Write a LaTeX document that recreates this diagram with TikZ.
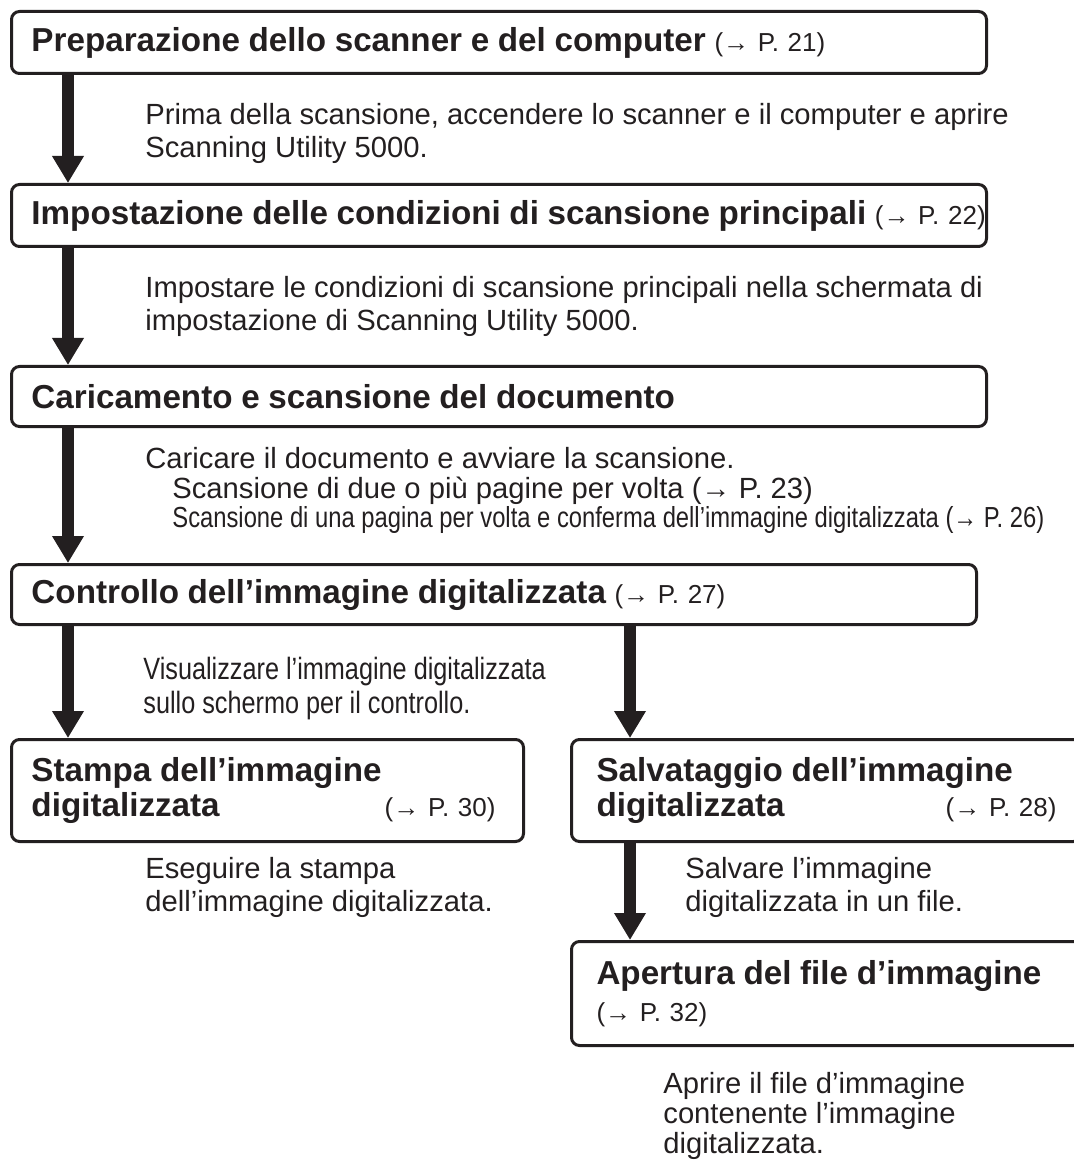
\documentclass[tikz,border=0pt]{standalone}
\usepackage{fontspec}
\setmainfont{Liberation Sans}
\newfontfamily\narrowfont[FakeStretch=0.82]{Liberation Sans}
\usetikzlibrary{arrows.meta,positioning}
\definecolor{InkBlack}{HTML}{231F20}
\newcommand{\steptitle}[1]{{\fontsize{16.6pt}{17.5pt}\selectfont\bfseries #1}}

\begin{document}
\begin{tikzpicture}[
    x=0.5pt, y=-0.5pt, every node/.style={text=InkBlack},
    stepbox/.style={draw=InkBlack, line width=1.5pt, rounded corners=4pt, anchor=north west, inner xsep=10pt, inner ysep=0pt, align=left, font=\fontsize{13pt}{17.5pt}\selectfont},
    flow/.style={-{Triangle[length=13.5pt, width=15pt]}, line width=6pt, draw=InkBlack},
    note/.style={anchor=base west, align=left, inner sep=0pt, font=\fontsize{14.6pt}{16.5pt}\selectfont}
  ]
    \useasboundingbox (0,0) rectangle (1074,1165);
    \coordinate (lane) at (68,0);
    \coordinate (lane2) at (630,0);
    % main column
    \node[stepbox, text width=467.5pt, minimum height=31pt] (prep) at (10,10) {\mbox{\steptitle{Preparazione dello scanner e del computer} (→ P. 21)}};
    \node[stepbox, text width=467.5pt, minimum height=31pt] (impo) at (10,183) {\mbox{\steptitle{Impostazione delle condizioni di scansione principali} (→ P. 22)}};
    \node[stepbox, text width=467.5pt, minimum height=30pt] (load) at (10,365) {\mbox{\steptitle{Caricamento e scansione del documento}}};
    \node[stepbox, text width=462.5pt, minimum height=30pt] (check) at (10,563) {\mbox{\steptitle{Controllo dell’immagine digitalizzata} (→ P. 27)}};
    \node[stepbox, text width=236pt, minimum height=51pt] (print) at (10,738) {\steptitle{Stampa dell’immagine\\digitalizzata}\hfill(→ P. 30)\hspace*{4pt}};
    \node[stepbox, inner xsep=12.5pt, text width=230pt, minimum height=51pt] (save) at (570,738) {\steptitle{Salvataggio dell’immagine\\digitalizzata}\hfill(→ P. 28)};
    \node[stepbox, inner xsep=12.5pt, text width=230pt, minimum height=52pt, font=\fontsize{13pt}{18.5pt}\selectfont] (open) at (570,940) {\steptitle{Apertura del file d’immagine}\\(→ P. 32)};
    % notes
    \node[note] (n1) at (145,158) {Prima della scansione, accendere lo scanner e il computer e aprire\\Scanning Utility 5000.};
    \node[note] (n2) at (145,331) {Impostare le condizioni di scansione principali nella schermata di\\impostazione di Scanning Utility 5000.};
    \node[note] (n3) at (145,468) {Caricare il documento e avviare la scansione.};
    \node[note] (n3a) at (172,498) {Scansione di due o più pagine per volta (→ P. 23)};
    \node[note, font=\narrowfont\fontsize{14.5pt}{16pt}\selectfont] (n3b) at (172,527) {Scansione di una pagina per volta e conferma dell’immagine digitalizzata (→ P. 26)};
    \node[note, font=\narrowfont\fontsize{15.4pt}{17pt}\selectfont] (n4) at (143,713) {Visualizzare l’immagine digitalizzata\\sullo schermo per il controllo.};
    \node[note] (n5) at (145,911) {Eseguire la stampa\\dell’immagine digitalizzata.};
    \node[note] (n6) at (685,911) {Salvare l’immagine\\digitalizzata in un file.};
    \node[note, font=\fontsize{14.6pt}{15pt}\selectfont] (n7) at (663,1153) {Aprire il file d’immagine\\contenente l’immagine\\digitalizzata.};
    % arrows
    \draw[flow] (prep.south -| lane) -- (impo.north -| lane);
    \draw[flow] (impo.south -| lane) -- (load.north -| lane);
    \draw[flow] (load.south -| lane) -- (check.north -| lane);
    \draw[flow] (check.south -| lane) -- (print.north -| lane);
    \draw[flow] (check.south -| lane2) -- (save.north -| lane2);
    \draw[flow] (save.south -| lane2) -- (open.north -| lane2);
  \end{tikzpicture}
\end{document}
